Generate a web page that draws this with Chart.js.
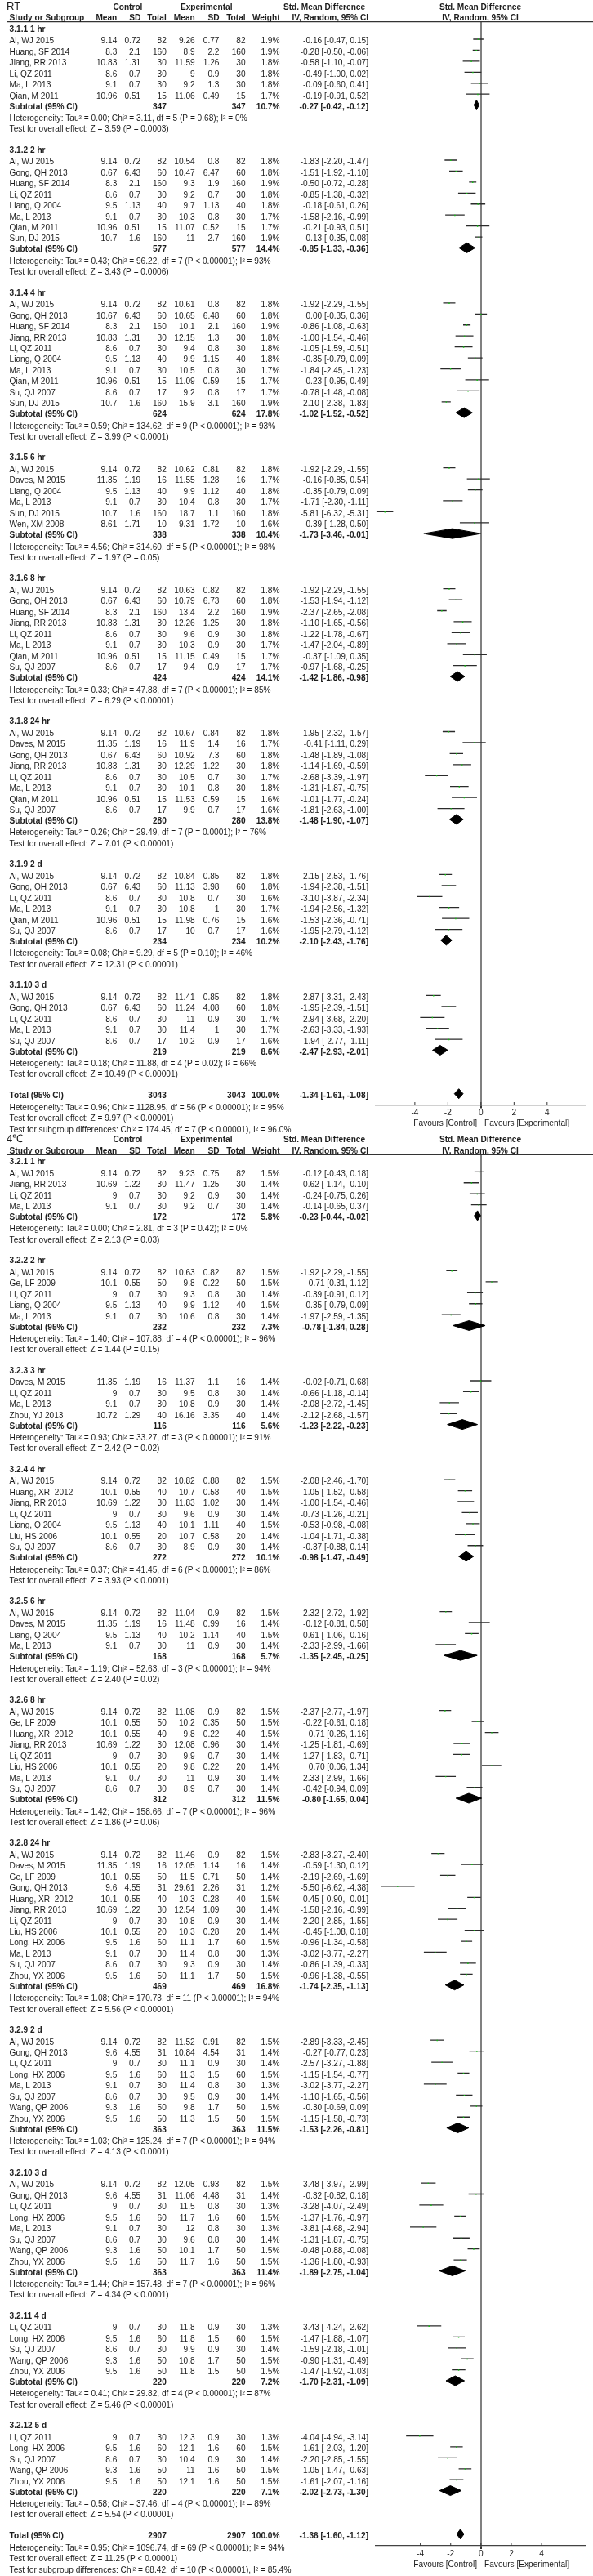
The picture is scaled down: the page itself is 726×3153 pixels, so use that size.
<!DOCTYPE html>
<html>
<head>
<meta charset="utf-8">
<title>Forest plots</title>
<script src="https://cdn.jsdelivr.net/npm/chart.js@4/dist/chart.umd.min.js"></script>
<style>
html, body { margin: 0; padding: 0; background: #fff; }
#page { position: relative; width: 726px; height: 3153px; overflow: hidden; }
canvas { position: absolute; left: 0; filter: blur(0.3px); }
</style>
</head>
<body>
<div id="page">
<canvas id="rt-chart" width="726" height="1392" style="top:0"></canvas>
<canvas id="cold-chart" width="726" height="1773" style="top:1380px"></canvas>
</div>
<script>
// Panel 1 : RT
const rtGroups = ['3.1.1 1 hr', '3.1.2 2 hr', '3.1.4 4 hr', '3.1.5 6 hr', '3.1.6 8 hr', '3.1.8 24 hr', '3.1.9 2 d', '3.1.10 3 d'];
const rtGroupSizes = [6, 8, 10, 6, 8, 8, 6, 5];
const rtStudies = [
    'Ai, WJ 2015', 'Huang, SF 2014', 'Jiang, RR 2013', 'Li, QZ 2011', 'Ma, L 2013', 'Qian, M 2011',
    'Ai, WJ 2015', 'Gong, QH 2013', 'Huang, SF 2014', 'Li, QZ 2011', 'Liang, Q 2004', 'Ma, L 2013', 'Qian, M 2011', 'Sun, DJ 2015',
    'Ai, WJ 2015', 'Gong, QH 2013', 'Huang, SF 2014', 'Jiang, RR 2013', 'Li, QZ 2011', 'Liang, Q 2004', 'Ma, L 2013', 'Qian, M 2011', 'Su, QJ 2007', 'Sun, DJ 2015',
    'Ai, WJ 2015', 'Daves, M 2015', 'Liang, Q 2004', 'Ma, L 2013', 'Sun, DJ 2015', 'Wen, XM 2008',
    'Ai, WJ 2015', 'Gong, QH 2013', 'Huang, SF 2014', 'Jiang, RR 2013', 'Li, QZ 2011', 'Ma, L 2013', 'Qian, M 2011', 'Su, QJ 2007',
    'Ai, WJ 2015', 'Daves, M 2015', 'Gong, QH 2013', 'Jiang, RR 2013', 'Li, QZ 2011', 'Ma, L 2013', 'Qian, M 2011', 'Su, QJ 2007',
    'Ai, WJ 2015', 'Gong, QH 2013', 'Li, QZ 2011', 'Ma, L 2013', 'Qian, M 2011', 'Su, QJ 2007',
    'Ai, WJ 2015', 'Gong, QH 2013', 'Li, QZ 2011', 'Ma, L 2013', 'Su, QJ 2007'
];
const rtCtrlMean = [
    9.14, 8.3, 10.83, 8.6, 9.1, 10.96,
    9.14, 0.67, 8.3, 8.6, 9.5, 9.1, 10.96, 10.7,
    9.14, 10.67, 8.3, 10.83, 8.6, 9.5, 9.1, 10.96, 8.6, 10.7,
    9.14, 11.35, 9.5, 9.1, 10.7, 8.61,
    9.14, 0.67, 8.3, 10.83, 8.6, 9.1, 10.96, 8.6,
    9.14, 11.35, 0.67, 10.83, 8.6, 9.1, 10.96, 8.6,
    9.14, 0.67, 8.6, 9.1, 10.96, 8.6,
    9.14, 0.67, 8.6, 9.1, 8.6
];
const rtCtrlSd = [
    0.72, 2.1, 1.31, 0.7, 0.7, 0.51,
    0.72, 6.43, 2.1, 0.7, 1.13, 0.7, 0.51, 1.6,
    0.72, 6.43, 2.1, 1.31, 0.7, 1.13, 0.7, 0.51, 0.7, 1.6,
    0.72, 1.19, 1.13, 0.7, 1.6, 1.71,
    0.72, 6.43, 2.1, 1.31, 0.7, 0.7, 0.51, 0.7,
    0.72, 1.19, 6.43, 1.31, 0.7, 0.7, 0.51, 0.7,
    0.72, 6.43, 0.7, 0.7, 0.51, 0.7,
    0.72, 6.43, 0.7, 0.7, 0.7
];
// same number of patients in both arms
const rtTotals = [
    82, 160, 30, 30, 30, 15,
    82, 60, 160, 30, 40, 30, 15, 160,
    82, 60, 160, 30, 30, 40, 30, 15, 17, 160,
    82, 16, 40, 30, 160, 10,
    82, 60, 160, 30, 30, 30, 15, 17,
    82, 16, 60, 30, 30, 30, 15, 17,
    82, 60, 30, 30, 15, 17,
    82, 60, 30, 30, 17
];
const rtExpMean = [
    9.26, 8.9, 11.59, 9, 9.2, 11.06,
    10.54, 10.47, 9.3, 9.2, 9.7, 10.3, 11.07, 11,
    10.61, 10.65, 10.1, 12.15, 9.4, 9.9, 10.5, 11.09, 9.2, 15.9,
    10.62, 11.55, 9.9, 10.4, 18.7, 9.31,
    10.63, 10.79, 13.4, 12.26, 9.6, 10.3, 11.15, 9.4,
    10.67, 11.9, 10.92, 12.29, 10.5, 10.1, 11.53, 9.9,
    10.84, 11.13, 10.8, 10.8, 11.98, 10,
    11.41, 11.24, 11, 11.4, 10.2
];
const rtExpSd = [
    0.77, 2.2, 1.26, 0.9, 1.3, 0.49,
    0.8, 6.47, 1.9, 0.7, 1.13, 0.8, 0.52, 2.7,
    0.8, 6.48, 2.1, 1.3, 0.8, 1.15, 0.8, 0.59, 0.8, 3.1,
    0.81, 1.28, 1.12, 0.8, 1.1, 1.72,
    0.82, 6.73, 2.2, 1.25, 0.9, 0.9, 0.49, 0.9,
    0.84, 1.4, 7.3, 1.22, 0.7, 0.8, 0.59, 0.7,
    0.85, 3.98, 0.7, 1, 0.76, 0.7,
    0.85, 4.08, 0.9, 1, 0.9
];
const rtWeight = [
    1.9, 1.9, 1.8, 1.8, 1.8, 1.7,
    1.8, 1.8, 1.9, 1.8, 1.8, 1.7, 1.7, 1.9,
    1.8, 1.8, 1.9, 1.8, 1.8, 1.8, 1.7, 1.7, 1.7, 1.9,
    1.8, 1.7, 1.8, 1.7, 1.8, 1.6,
    1.8, 1.8, 1.9, 1.8, 1.8, 1.7, 1.7, 1.7,
    1.8, 1.7, 1.8, 1.8, 1.7, 1.8, 1.6, 1.6,
    1.8, 1.8, 1.6, 1.7, 1.6, 1.6,
    1.8, 1.8, 1.7, 1.7, 1.6
];
const rtSmd = [
    -0.16, -0.28, -0.58, -0.49, -0.09, -0.19,
    -1.83, -1.51, -0.50, -0.85, -0.18, -1.58, -0.21, -0.13,
    -1.92, 0.00, -0.86, -1.00, -1.05, -0.35, -1.84, -0.23, -0.78, -2.10,
    -1.92, -0.16, -0.35, -1.71, -5.81, -0.39,
    -1.92, -1.53, -2.37, -1.10, -1.22, -1.47, -0.37, -0.97,
    -1.95, -0.41, -1.48, -1.14, -2.68, -1.31, -1.01, -1.81,
    -2.15, -1.94, -3.10, -1.94, -1.53, -1.95,
    -2.87, -1.95, -2.94, -2.63, -1.94
];
const rtLow = [
    -0.47, -0.50, -1.10, -1.00, -0.60, -0.91,
    -2.20, -1.92, -0.72, -1.38, -0.61, -2.16, -0.93, -0.35,
    -2.29, -0.35, -1.08, -1.54, -1.59, -0.79, -2.45, -0.95, -1.48, -2.38,
    -2.29, -0.85, -0.79, -2.30, -6.32, -1.28,
    -2.29, -1.94, -2.65, -1.65, -1.78, -2.04, -1.09, -1.68,
    -2.32, -1.11, -1.89, -1.69, -3.39, -1.87, -1.77, -2.63,
    -2.53, -2.38, -3.87, -2.56, -2.36, -2.79,
    -3.31, -2.39, -3.68, -3.33, -2.77
];
const rtHigh = [
    0.15, -0.06, -0.07, 0.02, 0.41, 0.52,
    -1.47, -1.10, -0.28, -0.32, 0.26, -0.99, 0.51, 0.08,
    -1.55, 0.36, -0.63, -0.46, -0.51, 0.09, -1.23, 0.49, -0.08, -1.83,
    -1.55, 0.54, 0.09, -1.11, -5.31, 0.50,
    -1.55, -1.12, -2.08, -0.56, -0.67, -0.89, 0.35, -0.25,
    -1.57, 0.29, -1.08, -0.59, -1.97, -0.75, -0.24, -1.00,
    -1.76, -1.51, -2.34, -1.32, -0.71, -1.12,
    -2.43, -1.51, -2.20, -1.93, -1.11
];
const rtSubTotals = [347, 577, 624, 338, 424, 280, 234, 219];
const rtSubWeight = [10.7, 14.4, 17.8, 10.4, 14.1, 13.8, 10.2, 8.6];
const rtSubSmd = [-0.27, -0.85, -1.02, -1.73, -1.42, -1.48, -2.10, -2.47];
const rtSubLow = [-0.42, -1.33, -1.52, -3.46, -1.86, -1.90, -2.43, -2.93];
const rtSubHigh = [-0.12, -0.36, -0.52, -0.01, -0.98, -1.07, -1.76, -2.01];
const rtHeterogeneity = [
    'Tau² = 0.00; Chi² = 3.11, df = 5 (P = 0.68); I² = 0%',
    'Tau² = 0.43; Chi² = 96.22, df = 7 (P < 0.00001); I² = 93%',
    'Tau² = 0.59; Chi² = 134.62, df = 9 (P < 0.00001); I² = 93%',
    'Tau² = 4.56; Chi² = 314.60, df = 5 (P < 0.00001); I² = 98%',
    'Tau² = 0.33; Chi² = 47.88, df = 7 (P < 0.00001); I² = 85%',
    'Tau² = 0.26; Chi² = 29.49, df = 7 (P = 0.0001); I² = 76%',
    'Tau² = 0.08; Chi² = 9.29, df = 5 (P = 0.10); I² = 46%',
    'Tau² = 0.18; Chi² = 11.88, df = 4 (P = 0.02); I² = 66%'
];
const rtOverall = [
    'Z = 3.59 (P = 0.0003)', 'Z = 3.43 (P = 0.0006)', 'Z = 3.99 (P < 0.0001)', 'Z = 1.97 (P = 0.05)',
    'Z = 6.29 (P < 0.00001)', 'Z = 7.01 (P < 0.00001)', 'Z = 12.31 (P < 0.00001)', 'Z = 10.49 (P < 0.00001)'
];
const rtTotal = [3043, 100.0, -1.34, -1.61, -1.08];
const rtFooter = [
    'Heterogeneity: Tau² = 0.96; Chi² = 1128.95, df = 56 (P < 0.00001); I² = 95%',
    'Test for overall effect: Z = 9.97 (P < 0.00001)',
    'Test for subgroup differences: Chi² = 174.45, df = 7 (P < 0.00001), I² = 96.0%'
];

// Panel 2 : 4 degrees
const coldGroups = ['3.2.1 1 hr', '3.2.2 2 hr', '3.2.3 3 hr', '3.2.4 4 hr', '3.2.5 6 hr', '3.2.6 8 hr', '3.2.8 24 hr', '3.2.9 2 d', '3.2.10 3 d', '3.2.11 4 d', '3.2.12 5 d'];
const coldGroupSizes = [4, 5, 4, 7, 4, 8, 12, 8, 8, 5, 5];
const coldStudies = [
    'Ai, WJ 2015', 'Jiang, RR 2013', 'Li, QZ 2011', 'Ma, L 2013',
    'Ai, WJ 2015', 'Ge, LF 2009', 'Li, QZ 2011', 'Liang, Q 2004', 'Ma, L 2013',
    'Daves, M 2015', 'Li, QZ 2011', 'Ma, L 2013', 'Zhou, YJ 2013',
    'Ai, WJ 2015', 'Huang, XR  2012', 'Jiang, RR 2013', 'Li, QZ 2011', 'Liang, Q 2004', 'Liu, HS 2006', 'Su, QJ 2007',
    'Ai, WJ 2015', 'Daves, M 2015', 'Liang, Q 2004', 'Ma, L 2013',
    'Ai, WJ 2015', 'Ge, LF 2009', 'Huang, XR  2012', 'Jiang, RR 2013', 'Li, QZ 2011', 'Liu, HS 2006', 'Ma, L 2013', 'Su, QJ 2007',
    'Ai, WJ 2015', 'Daves, M 2015', 'Ge, LF 2009', 'Gong, QH 2013', 'Huang, XR  2012', 'Jiang, RR 2013', 'Li, QZ 2011', 'Liu, HS 2006', 'Long, HX 2006', 'Ma, L 2013', 'Su, QJ 2007', 'Zhou, YX 2006',
    'Ai, WJ 2015', 'Gong, QH 2013', 'Li, QZ 2011', 'Long, HX 2006', 'Ma, L 2013', 'Su, QJ 2007', 'Wang, QP 2006', 'Zhou, YX 2006',
    'Ai, WJ 2015', 'Gong, QH 2013', 'Li, QZ 2011', 'Long, HX 2006', 'Ma, L 2013', 'Su, QJ 2007', 'Wang, QP 2006', 'Zhou, YX 2006',
    'Li, QZ 2011', 'Long, HX 2006', 'Su, QJ 2007', 'Wang, QP 2006', 'Zhou, YX 2006',
    'Li, QZ 2011', 'Long, HX 2006', 'Su, QJ 2007', 'Wang, QP 2006', 'Zhou, YX 2006'
];
const coldCtrlMean = [
    9.14, 10.69, 9, 9.1,
    9.14, 10.1, 9, 9.5, 9.1,
    11.35, 9, 9.1, 10.72,
    9.14, 10.1, 10.69, 9, 9.5, 10.1, 8.6,
    9.14, 11.35, 9.5, 9.1,
    9.14, 10.1, 10.1, 10.69, 9, 10.1, 9.1, 8.6,
    9.14, 11.35, 10.1, 9.6, 10.1, 10.69, 9, 10.1, 9.5, 9.1, 8.6, 9.5,
    9.14, 9.6, 9, 9.5, 9.1, 8.6, 9.3, 9.5,
    9.14, 9.6, 9, 9.5, 9.1, 8.6, 9.3, 9.5,
    9, 9.5, 8.6, 9.3, 9.5,
    9, 9.5, 8.6, 9.3, 9.5
];
const coldCtrlSd = [
    0.72, 1.22, 0.7, 0.7,
    0.72, 0.55, 0.7, 1.13, 0.7,
    1.19, 0.7, 0.7, 1.29,
    0.72, 0.55, 1.22, 0.7, 1.13, 0.55, 0.7,
    0.72, 1.19, 1.13, 0.7,
    0.72, 0.55, 0.55, 1.22, 0.7, 0.55, 0.7, 0.7,
    0.72, 1.19, 0.55, 4.55, 0.55, 1.22, 0.7, 0.55, 1.6, 0.7, 0.7, 1.6,
    0.72, 4.55, 0.7, 1.6, 0.7, 0.7, 1.6, 1.6,
    0.72, 4.55, 0.7, 1.6, 0.7, 0.7, 1.6, 1.6,
    0.7, 1.6, 0.7, 1.6, 1.6,
    0.7, 1.6, 0.7, 1.6, 1.6
];
const coldTotals = [
    82, 30, 30, 30,
    82, 50, 30, 40, 30,
    16, 30, 30, 40,
    82, 40, 30, 30, 40, 20, 30,
    82, 16, 40, 30,
    82, 50, 40, 30, 30, 20, 30, 30,
    82, 16, 50, 31, 40, 30, 30, 20, 60, 30, 30, 50,
    82, 31, 30, 60, 30, 30, 50, 50,
    82, 31, 30, 60, 30, 30, 50, 50,
    30, 60, 30, 50, 50,
    30, 60, 30, 50, 50
];
const coldExpMean = [
    9.23, 11.47, 9.2, 9.2,
    10.63, 9.8, 9.3, 9.9, 10.6,
    11.37, 9.5, 10.8, 16.16,
    10.82, 10.7, 11.83, 9.6, 10.1, 10.7, 8.9,
    11.04, 11.48, 10.2, 11,
    11.08, 10.2, 9.8, 12.08, 9.9, 9.8, 11, 8.9,
    11.46, 12.05, 11.5, 29.61, 10.3, 12.54, 10.8, 10.3, 11.1, 11.4, 9.3, 11.1,
    11.52, 10.84, 11.1, 11.3, 11.4, 9.5, 9.8, 11.3,
    12.05, 11.06, 11.5, 11.7, 12, 9.6, 10.1, 11.7,
    11.8, 11.8, 9.9, 10.8, 11.8,
    12.3, 12.1, 10.4, 11, 12.1
];
const coldExpSd = [
    0.75, 1.25, 0.9, 0.7,
    0.82, 0.22, 0.8, 1.12, 0.8,
    1.1, 0.8, 0.9, 3.35,
    0.88, 0.58, 1.02, 0.9, 1.11, 0.58, 0.9,
    0.9, 0.99, 1.14, 0.9,
    0.9, 0.35, 0.22, 0.96, 0.7, 0.22, 0.9, 0.7,
    0.9, 1.14, 0.71, 2.26, 0.28, 1.09, 0.9, 0.28, 1.7, 0.8, 0.9, 1.7,
    0.91, 4.54, 0.9, 1.5, 0.8, 0.9, 1.7, 1.5,
    0.93, 4.48, 0.8, 1.6, 0.8, 0.8, 1.7, 1.6,
    0.9, 1.5, 0.9, 1.7, 1.5,
    0.9, 1.6, 0.9, 1.6, 1.6
];
const coldWeight = [
    1.5, 1.4, 1.4, 1.4,
    1.5, 1.5, 1.4, 1.5, 1.4,
    1.4, 1.4, 1.4, 1.4,
    1.5, 1.5, 1.4, 1.4, 1.5, 1.4, 1.4,
    1.5, 1.4, 1.5, 1.4,
    1.5, 1.5, 1.5, 1.4, 1.4, 1.4, 1.4, 1.4,
    1.5, 1.4, 1.4, 1.2, 1.5, 1.4, 1.4, 1.4, 1.5, 1.3, 1.4, 1.5,
    1.5, 1.4, 1.4, 1.5, 1.3, 1.4, 1.5, 1.5,
    1.5, 1.4, 1.3, 1.5, 1.3, 1.4, 1.5, 1.5,
    1.3, 1.5, 1.4, 1.5, 1.5,
    1.3, 1.5, 1.4, 1.5, 1.5
];
const coldSmd = [
    -0.12, -0.62, -0.24, -0.14,
    -1.92, 0.71, -0.39, -0.35, -1.97,
    -0.02, -0.66, -2.08, -2.12,
    -2.08, -1.05, -1.00, -0.73, -0.53, -1.04, -0.37,
    -2.32, -0.12, -0.61, -2.33,
    -2.37, -0.22, 0.71, -1.25, -1.27, 0.70, -2.33, -0.42,
    -2.83, -0.59, -2.19, -5.50, -0.45, -1.58, -2.20, -0.45, -0.96, -3.02, -0.86, -0.96,
    -2.89, -0.27, -2.57, -1.15, -3.02, -1.10, -0.30, -1.15,
    -3.48, -0.32, -3.28, -1.37, -3.81, -1.31, -0.48, -1.36,
    -3.43, -1.47, -1.59, -0.90, -1.47,
    -4.04, -1.61, -2.20, -1.05, -1.61
];
const coldLow = [
    -0.43, -1.14, -0.75, -0.65,
    -2.29, 0.31, -0.91, -0.79, -2.59,
    -0.71, -1.18, -2.72, -2.68,
    -2.46, -1.52, -1.54, -1.26, -0.98, -1.71, -0.88,
    -2.72, -0.81, -1.06, -2.99,
    -2.77, -0.61, 0.26, -1.81, -1.83, 0.06, -2.99, -0.94,
    -3.27, -1.30, -2.69, -6.62, -0.90, -2.16, -2.85, -1.08, -1.34, -3.77, -1.39, -1.38,
    -3.33, -0.77, -3.27, -1.54, -3.77, -1.65, -0.69, -1.58,
    -3.97, -0.82, -4.07, -1.76, -4.68, -1.87, -0.88, -1.80,
    -4.24, -1.88, -2.18, -1.31, -1.92,
    -4.94, -2.03, -2.85, -1.47, -2.07
];
const coldHigh = [
    0.18, -0.10, 0.26, 0.37,
    -1.55, 1.12, 0.12, 0.09, -1.35,
    0.68, -0.14, -1.45, -1.57,
    -1.70, -0.58, -0.46, -0.21, -0.08, -0.38, 0.14,
    -1.92, 0.58, -0.16, -1.66,
    -1.97, 0.18, 1.16, -0.69, -0.71, 1.34, -1.66, 0.09,
    -2.40, 0.12, -1.69, -4.38, -0.01, -0.99, -1.55, 0.18, -0.58, -2.27, -0.33, -0.55,
    -2.45, 0.23, -1.88, -0.77, -2.27, -0.56, 0.09, -0.73,
    -2.99, 0.18, -2.49, -0.97, -2.94, -0.75, -0.08, -0.93,
    -2.62, -1.07, -1.01, -0.49, -1.03,
    -3.14, -1.20, -1.55, -0.63, -1.16
];
const coldSubTotals = [172, 232, 116, 272, 168, 312, 469, 363, 363, 220, 220];
const coldSubWeight = [5.8, 7.3, 5.6, 10.1, 5.7, 11.5, 16.8, 11.5, 11.4, 7.2, 7.1];
const coldSubSmd = [-0.23, -0.78, -1.23, -0.98, -1.35, -0.80, -1.74, -1.53, -1.89, -1.70, -2.02];
const coldSubLow = [-0.44, -1.84, -2.22, -1.47, -2.45, -1.65, -2.35, -2.26, -2.75, -2.31, -2.73];
const coldSubHigh = [-0.02, 0.28, -0.23, -0.49, -0.25, 0.04, -1.13, -0.81, -1.04, -1.09, -1.30];
const coldHeterogeneity = [
    'Tau² = 0.00; Chi² = 2.81, df = 3 (P = 0.42); I² = 0%',
    'Tau² = 1.40; Chi² = 107.88, df = 4 (P < 0.00001); I² = 96%',
    'Tau² = 0.93; Chi² = 33.27, df = 3 (P < 0.00001); I² = 91%',
    'Tau² = 0.37; Chi² = 41.45, df = 6 (P < 0.00001); I² = 86%',
    'Tau² = 1.19; Chi² = 52.63, df = 3 (P < 0.00001); I² = 94%',
    'Tau² = 1.42; Chi² = 158.66, df = 7 (P < 0.00001); I² = 96%',
    'Tau² = 1.08; Chi² = 170.73, df = 11 (P < 0.00001); I² = 94%',
    'Tau² = 1.03; Chi² = 125.24, df = 7 (P < 0.00001); I² = 94%',
    'Tau² = 1.44; Chi² = 157.48, df = 7 (P < 0.00001); I² = 96%',
    'Tau² = 0.41; Chi² = 29.82, df = 4 (P < 0.00001); I² = 87%',
    'Tau² = 0.58; Chi² = 37.46, df = 4 (P < 0.00001); I² = 89%'
];
const coldOverall = [
    'Z = 2.13 (P = 0.03)', 'Z = 1.44 (P = 0.15)', 'Z = 2.42 (P = 0.02)', 'Z = 3.93 (P < 0.0001)',
    'Z = 2.40 (P = 0.02)', 'Z = 1.86 (P = 0.06)', 'Z = 5.56 (P < 0.00001)', 'Z = 4.13 (P < 0.0001)',
    'Z = 4.34 (P < 0.0001)', 'Z = 5.46 (P < 0.00001)', 'Z = 5.54 (P < 0.00001)'
];
const coldTotal = [2907, 100.0, -1.36, -1.60, -1.12];
const coldFooter = [
    'Heterogeneity: Tau² = 0.95; Chi² = 1096.74, df = 69 (P < 0.00001); I² = 94%',
    'Test for overall effect: Z = 11.25 (P < 0.00001)',
    'Test for subgroup differences: Chi² = 68.42, df = 10 (P < 0.00001), I² = 85.4%'
];

const xTicks = [-4, -2, 0, 2, 4];

// Layout (pixels inside a panel)
const STEP = 13.44;
const MARK_SHIFT = -2.6;
const DIAMOND_H = 6;
const FONT_FAMILY = '"Liberation Sans", Arial, sans-serif';
const FONT_SIZE = 10.15;
const COLS = { study: 11.6, cMean: 143.3, cSd: 172.2, cN: 203.8, eMean: 238.7, eSd: 268.5, eN: 300.6, weight: 342.5, ci: 451 };

function ciText(smd, low, high) {
    return `${smd.toFixed(2)} [${low.toFixed(2)}, ${high.toFixed(2)}]`;
}

function buildForest(canvasId, title, d, geo) {
    const canvas = document.getElementById(canvasId);
    const texts = [];
    const ciPoints = [];
    const estimates = [];
    const diamonds = [];

    function put(str, x, y, align, bold, size) {
        texts.push({ str: String(str), x, y, align: align || 'right', bold: !!bold, size: size || 0 });
    }

    function addDiamond(smd, low, high, y) {
        const my = y + MARK_SHIFT + 0.3;
        diamonds.push({
            type: 'scatter',
            showLine: true,
            fill: 'shape',
            borderColor: '#000',
            backgroundColor: '#000',
            borderWidth: 1,
            pointRadius: 0,
            data: [{ x: low, y: my }, { x: smd, y: my - DIAMOND_H }, { x: high, y: my }, { x: smd, y: my + DIAMOND_H }, { x: low, y: my }]
        });
    }

    // table header
    put(title, 8, geo.header - 0.5, 'left', false, 13);
    put('Control', 156.4, geo.header, 'center', true);
    put('Experimental', 252.7, geo.header, 'center', true);
    put('Std. Mean Difference', 397, geo.header, 'center', true);
    put('Std. Mean Difference', 588, geo.header, 'center', true);
    const h2 = geo.header + 13.7;
    put('Study or Subgroup', COLS.study, h2, 'left', true);
    put('Mean', COLS.cMean, h2, 'right', true);
    put('SD', COLS.cSd, h2, 'right', true);
    put('Total', COLS.cN, h2, 'right', true);
    put('Mean', COLS.eMean, h2, 'right', true);
    put('SD', COLS.eSd, h2, 'right', true);
    put('Total', COLS.eN, h2, 'right', true);
    put('Weight', COLS.weight, h2, 'right', true);
    put('IV, Random, 95% CI', COLS.ci, h2, 'right', true);
    put('IV, Random, 95% CI', 588, h2, 'center', true);

    let y = geo.firstGroup;
    let row = 0;
    d.groups.forEach(function(name, g) {
        put(name, COLS.study, y, 'left', true);
        y += 14.6;
        for (let i = 0; i < d.sizes[g]; i++) {
            put(d.studies[row], COLS.study, y, 'left');
            put(d.cMean[row], COLS.cMean, y);
            put(d.cSd[row], COLS.cSd, y);
            put(d.totals[row], COLS.cN, y);
            put(d.eMean[row], COLS.eMean, y);
            put(d.eSd[row], COLS.eSd, y);
            put(d.totals[row], COLS.eN, y);
            put(d.weight[row].toFixed(1) + '%', COLS.weight, y);
            put(ciText(d.smd[row], d.low[row], d.high[row]), COLS.ci, y);
            const my = y + MARK_SHIFT;
            ciPoints.push({ x: d.low[row], y: my }, { x: d.high[row], y: my }, { x: NaN, y: NaN });
            estimates.push({ x: d.smd[row], y: my + 0.3 });
            row++;
            y += STEP;
        }
        y += 13 - STEP;
        put('Subtotal (95% CI)', COLS.study, y, 'left', true);
        put(d.subTotals[g], COLS.cN, y, 'right', true);
        put(d.subTotals[g], COLS.eN, y, 'right', true);
        put(d.subWeight[g].toFixed(1) + '%', COLS.weight, y, 'right', true);
        put(ciText(d.subSmd[g], d.subLow[g], d.subHigh[g]), COLS.ci, y, 'right', true);
        addDiamond(d.subSmd[g], d.subLow[g], d.subHigh[g], y);
        y += 14.4;
        put('Heterogeneity: ' + d.het[g], COLS.study, y, 'left');
        y += 13.4;
        put('Test for overall effect: ' + d.overall[g], COLS.study, y, 'left');
        y += 25.4;
    });

    put('Total (95% CI)', COLS.study, y, 'left', true);
    put(d.total[0], COLS.cN, y, 'right', true);
    put(d.total[0], COLS.eN, y, 'right', true);
    put(d.total[1].toFixed(1) + '%', COLS.weight, y, 'right', true);
    put(ciText(d.total[2], d.total[3], d.total[4]), COLS.ci, y, 'right', true);
    addDiamond(d.total[2], d.total[3], d.total[4], y);
    y += 15;
    d.footer.forEach(function(line, i) {
        put(line, COLS.study, y + i * 13.4, 'left');
    });
    put('Favours [Control]', 584, geo.axis + 23, 'right');
    put('Favours [Experimental]', 593, geo.axis + 23, 'left');

    const tablePlugin = {
        id: 'forestTable',
        afterDraw(chart) {
            const ctx = chart.ctx;
            const scaleY = chart.scales.y;
            ctx.save();
            // rule below the column titles
            const ruleY = scaleY.getPixelForValue(geo.rule);
            ctx.strokeStyle = '#333';
            ctx.lineWidth = 1.3;
            ctx.beginPath();
            ctx.moveTo(9, ruleY);
            ctx.lineTo(726, ruleY);
            ctx.stroke();
            // tick marks go through the axis line
            const scaleX = chart.scales.x;
            const axisY = scaleY.getPixelForValue(geo.axis);
            ctx.strokeStyle = '#333';
            ctx.lineWidth = 1;
            xTicks.forEach(function(v) {
                const px = scaleX.getPixelForValue(v);
                ctx.beginPath();
                ctx.moveTo(px, axisY - 3.5);
                ctx.lineTo(px, axisY);
                ctx.stroke();
            });
            // table text
            ctx.fillStyle = '#1c1c1c';
            ctx.textBaseline = 'middle';
            texts.forEach(function(t) {
                ctx.font = (t.bold ? 'bold ' : '') + (t.size || FONT_SIZE) + 'px ' + FONT_FAMILY;
                ctx.textAlign = t.align;
                ctx.fillText(t.str, t.x, scaleY.getPixelForValue(t.y));
            });
            ctx.restore();
        }
    };

    const datasets = [
        {
            type: 'scatter',
            label: 'Estimate',
            data: estimates,
            pointStyle: 'rect',
            pointRadius: 1,
            backgroundColor: '#10c810',
            borderColor: '#10c810',
            borderWidth: 0
        },
        {
            type: 'scatter',
            label: '95% CI',
            data: ciPoints,
            showLine: true,
            spanGaps: false,
            borderColor: '#2b2b2b',
            borderWidth: 1.3,
            pointRadius: 0
        }
    ].concat(diamonds);

    return new Chart(canvas, {
        type: 'scatter',
        data: { datasets },
        options: {
            responsive: false,
            animation: false,
            devicePixelRatio: 1,
            events: [],
            layout: { padding: { left: 459.7, right: 8, top: geo.rule, bottom: 0 } },
            plugins: { legend: { display: false }, tooltip: { enabled: false }, title: { display: false } },
            scales: {
                x: {
                    type: 'linear',
                    min: -geo.range,
                    max: geo.range,
                    afterBuildTicks(scale) {
                        scale.ticks = xTicks.map(v => ({ value: v }));
                    },
                    afterFit(scale) {
                        scale.height = canvas.height - geo.axis;
                    },
                    border: { display: true, color: '#444', width: 1.2 },
                    grid: {
                        drawOnChartArea: true,
                        drawTicks: true,
                        tickLength: 4,
                        tickColor: '#333',
                        color: c => (c.tick && c.tick.value === 0 ? '#808080' : 'rgba(0,0,0,0)'),
                        lineWidth: c => (c.tick && c.tick.value === 0 ? 2 : 0)
                    },
                    ticks: {
                        autoSkip: false,
                        maxRotation: 0,
                        padding: 0,
                        color: '#1c1c1c',
                        font: { family: FONT_FAMILY, size: FONT_SIZE },
                        callback: v => String(v)
                    }
                },
                y: {
                    type: 'linear',
                    display: false,
                    reverse: true,
                    min: geo.rule,
                    max: geo.axis
                }
            }
        },
        plugins: [tablePlugin]
    });
}

document.addEventListener('DOMContentLoaded', function() {
    buildForest('rt-chart', 'RT', {
        groups: rtGroups, sizes: rtGroupSizes, studies: rtStudies,
        cMean: rtCtrlMean, cSd: rtCtrlSd, totals: rtTotals, eMean: rtExpMean, eSd: rtExpSd,
        weight: rtWeight, smd: rtSmd, low: rtLow, high: rtHigh,
        subTotals: rtSubTotals, subWeight: rtSubWeight, subSmd: rtSubSmd, subLow: rtSubLow, subHigh: rtSubHigh,
        het: rtHeterogeneity, overall: rtOverall, total: rtTotal, footer: rtFooter
    }, { header: 9, rule: 26.7, firstGroup: 36, axis: 1352.5, range: 6.38 });

    buildForest('cold-chart', '4℃', {
        groups: coldGroups, sizes: coldGroupSizes, studies: coldStudies,
        cMean: coldCtrlMean, cSd: coldCtrlSd, totals: coldTotals, eMean: coldExpMean, eSd: coldExpSd,
        weight: coldWeight, smd: coldSmd, low: coldLow, high: coldHigh,
        subTotals: coldSubTotals, subWeight: coldSubWeight, subSmd: coldSubSmd, subLow: coldSubLow, subHigh: coldSubHigh,
        het: coldHeterogeneity, overall: coldOverall, total: coldTotal, footer: coldFooter
    }, { header: 15.3, rule: 33.3, firstGroup: 42.3, axis: 1736, range: 6.96 });
});
</script>
</body>
</html>
